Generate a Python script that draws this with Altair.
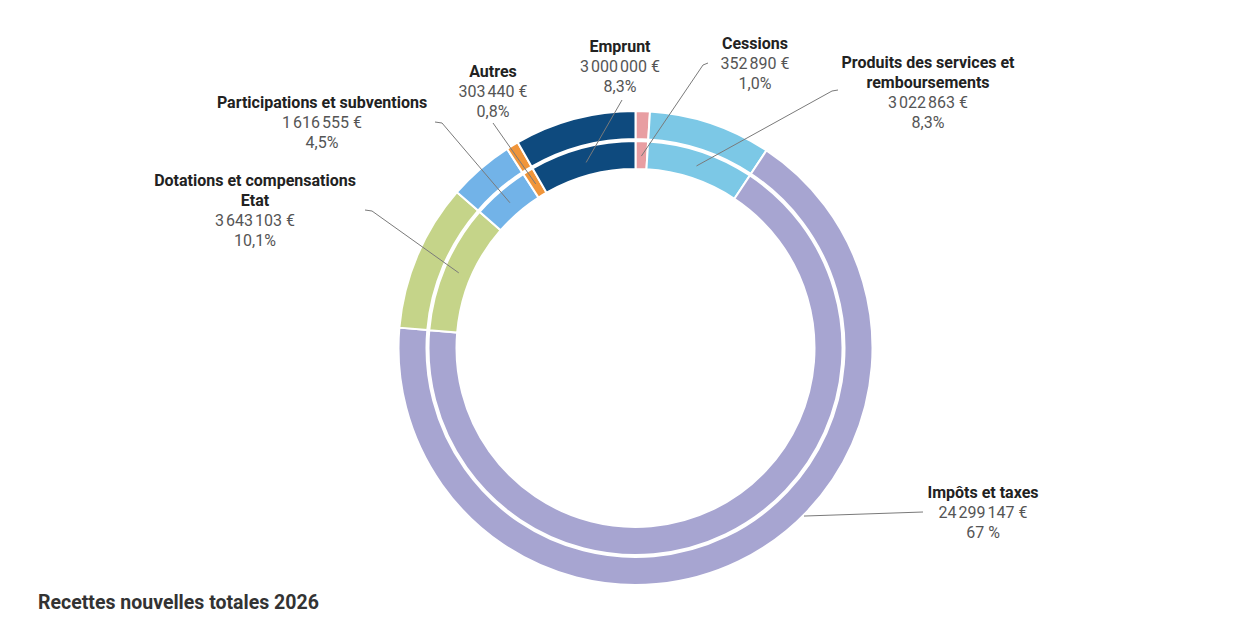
import altair as alt
import pandas as pd
import numpy as np

# ---------------- data ----------------
categories = ["Cessions", "Produits des services et remboursements", "Impôts et taxes",
              "Dotations et compensations Etat", "Participations et subventions",
              "Autres", "Emprunt"]
values = [352890, 3022863, 24299147, 3643103, 1616555, 303440, 3000000]
pct_labels = ["1,0%", "8,3%", "67 %", "10,1%", "4,5%", "0,8%", "8,3%"]
title_lines = [["Cessions"], ["Produits des services et", "remboursements"], ["Impôts et taxes"],
               ["Dotations et compensations", "Etat"], ["Participations et subventions"],
               ["Autres"], ["Emprunt"]]
chart_title = "Recettes nouvelles totales 2026"

# ---------------- style / layout ----------------
colors = ["#e89ea2", "#7cc8e6", "#a7a5d1", "#c5d489", "#72b3e8", "#f0953a", "#0e4a7e"]
M = 8  # page margin
CX, CY = 635.5 - M, 348 - M
R_OUT, R_SEP_OUT, R_SEP_IN, R_IN = 237, 209, 207, 179
FONT = "Roboto"
LINE_H = 20

label_pos = {  # centre x, first line y (page coords)
    "Emprunt": (620, 47), "Cessions": (755, 44),
    "Produits des services et remboursements": (928, 63),
    "Impôts et taxes": (983, 493), "Dotations et compensations Etat": (255, 181),
    "Participations et subventions": (322, 103), "Autres": (493, 72),
}
leader_start = {
    "Emprunt": [(622, 100)], "Cessions": [(708, 63), (703, 65)],
    "Produits des services et remboursements": [(838, 90), (832, 91)],
    "Impôts et taxes": [(923, 512)],
    "Dotations et compensations Etat": [(365, 210), (372, 211)],
    "Participations et subventions": [(435, 122), (442, 123)],
    "Autres": [(493, 123)],
}
anchor = {"Impôts et taxes": (0.42, 238)}  # fraction within segment, radius
DEFAULT_ANCHOR = (0.5, 192)

# ---------------- tables ----------------
df = pd.DataFrame({"name": categories, "value": values, "idx": range(len(values))})
total = float(sum(values))
cum = np.cumsum([0] + values[:-1])

def fmt_eur(v):
    return f"{v:,}".replace(",", "\u202f") + " €"

text_rows, line_rows = [], []
for i, name in enumerate(categories):
    lx, ly = label_pos[name]
    lines = [(t, "bold") for t in title_lines[i]] + [(fmt_eur(values[i]), "normal"), (pct_labels[i], "normal")]
    for k, (t, w) in enumerate(lines):
        text_rows.append({"x": lx - M, "y": ly - M + k * LINE_H, "t": t, "w": w})
    frac, r = anchor.get(name, DEFAULT_ANCHOR)
    ang = (cum[i] + frac * values[i]) / total * 2 * np.pi
    pts = [(px - M, py - M) for px, py in leader_start[name]]
    pts.append((CX + r * np.sin(ang), CY - r * np.cos(ang)))
    for k, (px, py) in enumerate(pts):
        line_rows.append({"name": name, "o": k, "x": px, "y": py})

tdf = pd.DataFrame(text_rows)
ldf = pd.DataFrame(line_rows)

# ---------------- chart ----------------
base = alt.Chart(df).encode(
    theta=alt.Theta("value:Q", stack=True),
    order=alt.Order("idx:Q"),
    color=alt.Color("name:N", scale=alt.Scale(domain=categories, range=colors), legend=None),
)
outer = base.mark_arc(radius=R_OUT, radius2=R_SEP_OUT, stroke="white", strokeWidth=2).encode(
    x=alt.value(CX), y=alt.value(CY))
inner = base.mark_arc(radius=R_SEP_IN, radius2=R_IN, stroke="white", strokeWidth=2).encode(
    x=alt.value(CX), y=alt.value(CY))

leaders = alt.Chart(ldf).mark_line(color="#7a7a7a", strokeWidth=1).encode(
    x=alt.X("x:Q", scale=None, axis=None),
    y=alt.Y("y:Q", scale=None, axis=None),
    detail="name:N", order="o:Q")

titles = alt.Chart(tdf[tdf.w == "bold"]).mark_text(
    font=FONT, fontSize=16, fontWeight="bold", color="#222222", align="center", baseline="middle"
).encode(x=alt.X("x:Q", scale=None, axis=None), y=alt.Y("y:Q", scale=None, axis=None), text="t:N")
vals = alt.Chart(tdf[tdf.w == "normal"]).mark_text(
    font=FONT, fontSize=16, color="#555555", align="center", baseline="middle"
).encode(x=alt.X("x:Q", scale=None, axis=None), y=alt.Y("y:Q", scale=None, axis=None), text="t:N")

main_title = alt.Chart(pd.DataFrame({"t": [chart_title]})).mark_text(
    font=FONT, fontSize=19.5, fontWeight="bold", color="#333333", align="left", baseline="middle"
).encode(x=alt.value(38 - M), y=alt.value(603 - M), text="t:N")

chart = alt.layer(outer, inner, leaders, titles, vals, main_title).properties(
    width=1234, height=610, padding=0, background="white"
).configure_view(stroke=None)

chart.save("out.html", embed_options={"renderer": "svg", "actions": False})
